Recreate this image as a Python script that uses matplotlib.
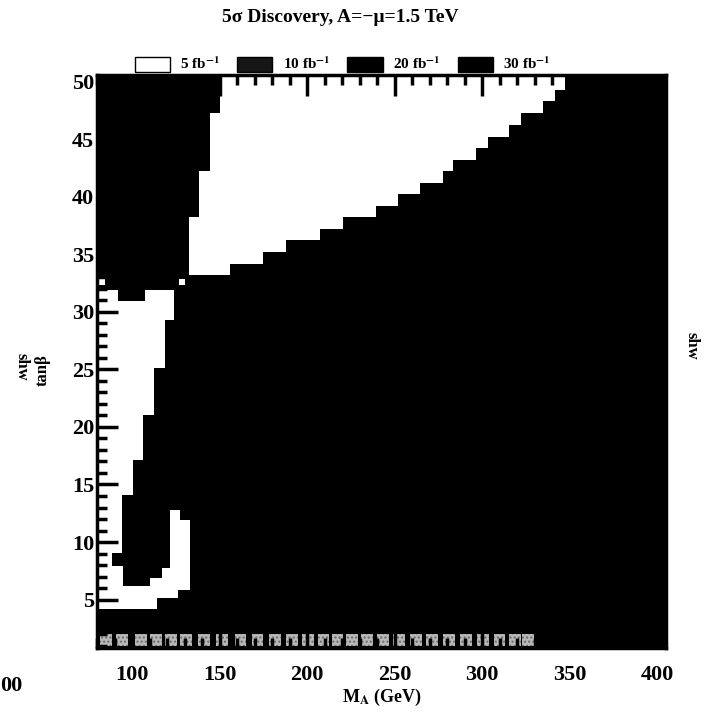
import numpy as np
import matplotlib.pyplot as plt
from matplotlib.patches import Patch
from matplotlib.ticker import MultipleLocator

plt.rcParams['font.family'] = ['Liberation Serif', 'DejaVu Serif']
plt.rcParams['font.weight'] = 'bold'
plt.rcParams['mathtext.fontset'] = 'stix'

# upper white wedge (5 fb^-1), one row per tanb step
wedge_tanb_lo = [33.2, 34.2, 35.2, 36.2, 37.2, 38.2, 39.2, 40.2, 41.2,
                 42.2, 43.2, 44.2, 45.2, 46.2, 47.3, 48.3, 49.3]
wedge_tanb_hi = [34.2, 35.2, 36.2, 37.2, 38.2, 39.2, 40.2, 41.2, 42.2,
                 43.2, 44.2, 45.2, 46.2, 47.3, 48.3, 49.3, 50.6]
wedge_ma_lo = [132.5, 132.5, 132.5, 132.5, 132.5, 138.3, 138.3, 138.3, 138.3,
               144.5, 144.5, 144.5, 144.5, 144.5, 150.2, 150.2, 150.2]
wedge_ma_hi = [156.0, 175.0, 188.0, 207.4, 220.3, 239.3, 252.1, 264.5, 277.4,
               283.5, 296.4, 303.5, 315.5, 322.2, 334.5, 341.6, 347.3]

# lower left white strip along the low-MA edge
strip_tanb_lo = [29.3, 25.1, 21.0, 17.1, 14.1, 9.05, 7.9, 5.8, 4.15]
strip_tanb_hi = [31.9, 29.3, 25.1, 21.0, 17.1, 14.1, 9.05, 7.9, 5.8]
strip_ma_hi = [124.0, 118.8, 112.6, 106.4, 100.7, 94.1, 88.5, 94.8, 114.3]

# white "L" inside the black pocket
ell_tanb_lo = [6.2, 11.9, 6.9, 5.8, 5.15]
ell_tanb_hi = [11.9, 12.8, 7.75, 6.9, 6.2]
ell_ma_lo = [121.7, 121.7, 116.9, 110.3, 80.0]
ell_ma_hi = [133.1, 127.4, 133.1, 133.1, 126.3]

# black notch cutting into the top of the strip
notch_tanb = (30.9, 31.9)
notch_ma = (92.0, 107.4)

# isolated white points
dot_ma = [83.0, 128.5]
dot_tanb = [32.6, 32.6]

# grey cells along the bottom row
grey_ma = [85.3, 94.2, 105.1, 113.4, 122.0, 130.6, 141.0, 151.4, 161.9,
           171.6, 181.6, 191.5, 200.7, 209.3, 217.3, 225.4, 234.0, 243.2,
           252.3, 262.0, 271.1, 280.8, 290.5, 300.2, 309.9, 318.5, 326.0]

fig = plt.figure(figsize=(7.04, 7.12), dpi=100)
ax = fig.add_axes([0.138, 0.09, 0.808, 0.805])
ax.set_facecolor('black')

ax.barh(wedge_tanb_lo, np.subtract(wedge_ma_hi, wedge_ma_lo),
        height=np.subtract(wedge_tanb_hi, wedge_tanb_lo), left=wedge_ma_lo,
        align='edge', color='white', linewidth=0)
ax.barh(strip_tanb_lo, np.subtract(strip_ma_hi, 80.0),
        height=np.subtract(strip_tanb_hi, strip_tanb_lo), left=80.0,
        align='edge', color='white', linewidth=0)
ax.barh(ell_tanb_lo, np.subtract(ell_ma_hi, ell_ma_lo),
        height=np.subtract(ell_tanb_hi, ell_tanb_lo), left=ell_ma_lo,
        align='edge', color='white', linewidth=0)
ax.barh(notch_tanb[0], notch_ma[1] - notch_ma[0],
        height=notch_tanb[1] - notch_tanb[0], left=notch_ma[0],
        align='edge', color='black', linewidth=0)
ax.scatter(dot_ma, dot_tanb, marker='s', s=22, color='white', linewidths=0)
ax.bar(grey_ma, 1.05, bottom=1.0, width=6.8, color='#b8b8b8',
       edgecolor='#6a6a6a', hatch='....', linewidth=0)

ax.set_xlim(80, 405)
ax.set_ylim(0.8, 50.6)
ax.xaxis.set_minor_locator(MultipleLocator(10))
ax.yaxis.set_minor_locator(MultipleLocator(1))
ax.set_yticks([5, 10, 15, 20, 25, 30, 35, 40, 45, 50])
ax.set_xticks([100, 150, 200, 250, 300, 350, 400])
ax.tick_params(which='both', direction='in', top=True, right=True,
               width=2.5, labelsize=16)
ax.tick_params(which='major', length=15)
ax.tick_params(which='minor', length=7)
ax.tick_params(axis='x', which='major', pad=12)
ax.tick_params(axis='y', which='major', pad=2)
for s in ax.spines.values():
    s.set_linewidth(2.5)

ax.set_xlabel(r'M$_\mathbf{A}$ (GeV)', fontsize=13, fontweight='bold',
              labelpad=2)
fig.text(0.061, 0.48, 'tanβ', rotation=90, fontsize=12, ha='center', va='center')
fig.text(0.03, 0.485, 'shw', rotation=-90, fontsize=12, ha='center', va='center')
fig.text(0.982, 0.515, 'shw', rotation=-90, fontsize=12, ha='center', va='center')
fig.text(0.0, 0.036, '00', fontsize=16, ha='left', va='center')

fig.text(0.483, 0.976, '5σ Discovery, A=−μ=1.5 TeV', fontsize=14,
         ha='center', va='center')

handles = [Patch(facecolor='white', edgecolor='black', linewidth=1),
           Patch(facecolor='#161616', edgecolor='black'),
           Patch(facecolor='black', edgecolor='black'),
           Patch(facecolor='black', edgecolor='black')]
labels = [r'5 fb$^{\mathbf{-1}}$', r'10 fb$^{\mathbf{-1}}$',
          r'20 fb$^{\mathbf{-1}}$', r'30 fb$^{\mathbf{-1}}$']
fig.legend(handles, labels, ncol=4, loc='center', bbox_to_anchor=(0.487, 0.91),
           frameon=False, fontsize=11, handlelength=2.3, handleheight=1.1,
           columnspacing=1.1, handletextpad=0.7)

fig.savefig('out.png', dpi=100)
